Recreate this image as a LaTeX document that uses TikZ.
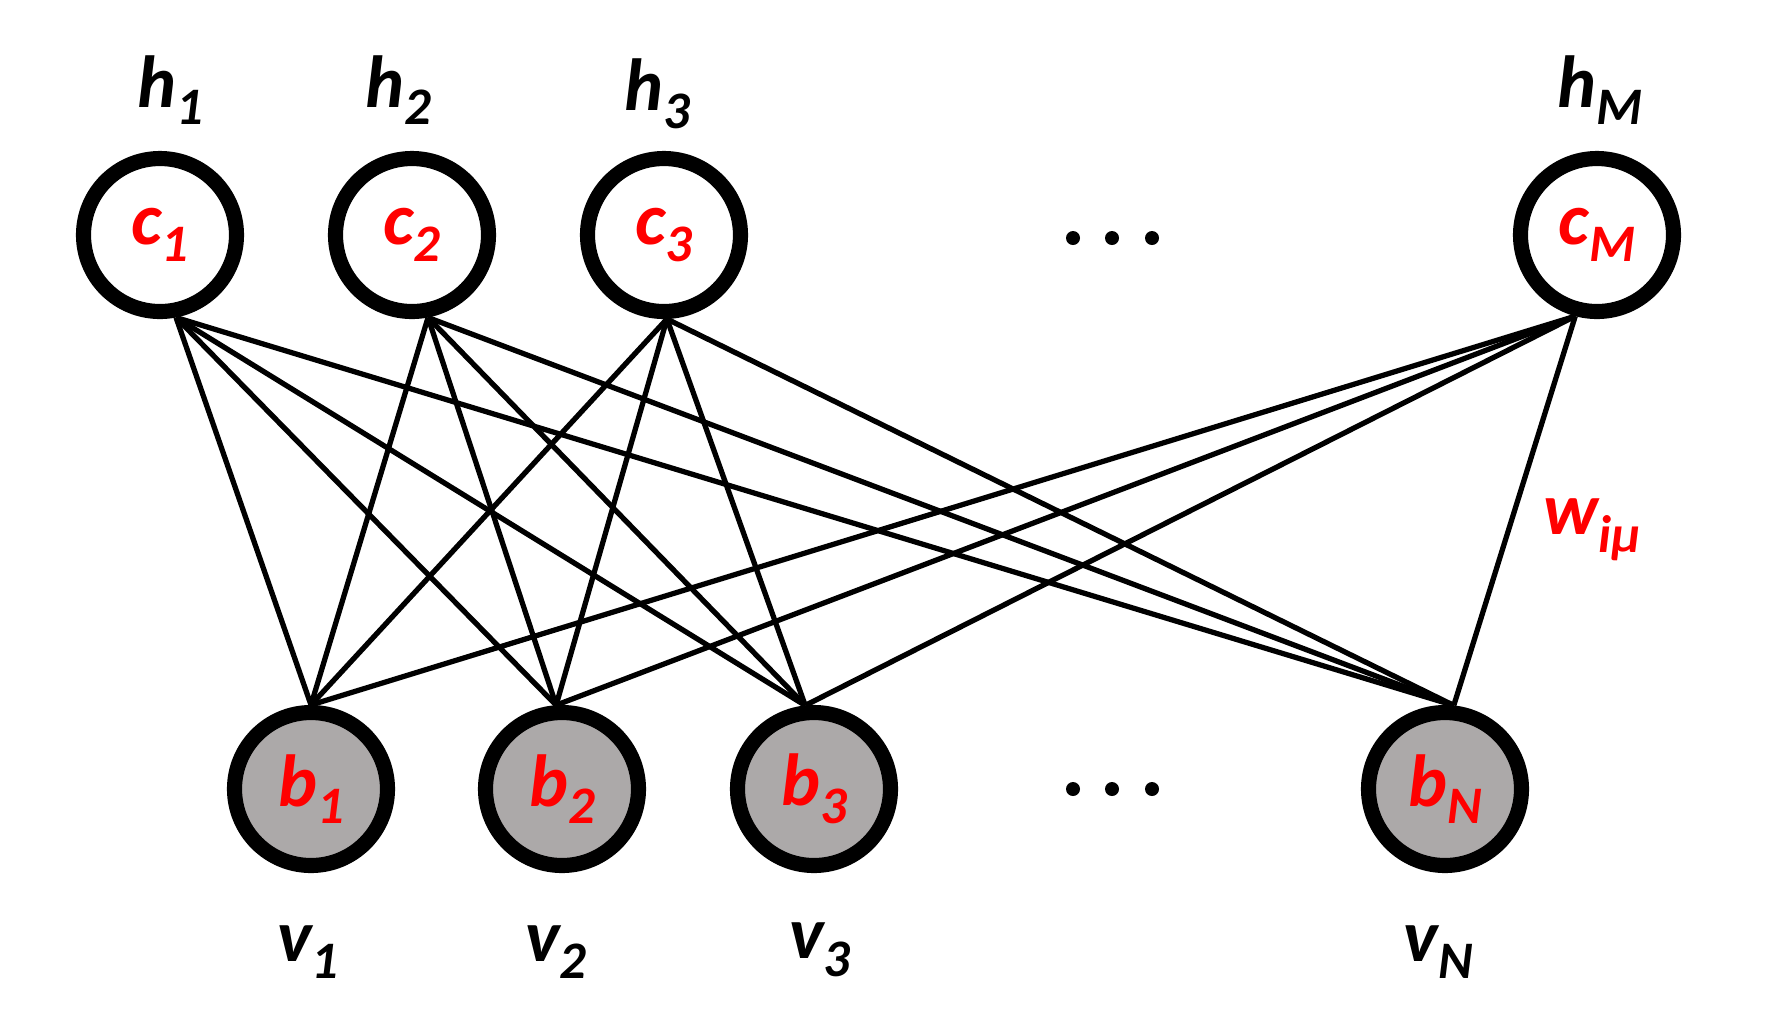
\documentclass[tikz,border=0pt]{standalone}
\usepackage{fontspec}
\setmainfont{Carlito}
\definecolor{unitgray}{RGB}{172,169,169}
\newcommand{\unitlab}[2]{{\fontsize{21}{21}\selectfont\bfseries\itshape #1\raisebox{-5pt}{\fontsize{15}{15}\selectfont #2}}}

\begin{document}
\begin{tikzpicture}[
    hidden/.style={circle,draw,line width=4.3pt,minimum size=1.53cm,inner sep=0pt,fill=white,text=red},
    visible/.style={hidden,fill=unitgray},
    weight/.style={line width=1.5pt}
  ]
    \useasboundingbox (0,0) rectangle (17.8,-10.18);

    % hidden layer
    \node[hidden] (c1) at (1.60,-2.35) {\unitlab{c}{1}};
    \node[hidden] (c2) at (4.12,-2.35) {\unitlab{c}{2}};
    \node[hidden] (c3) at (6.64,-2.35) {\unitlab{c}{3}};
    \node[hidden] (cM) at (15.97,-2.35) {\unitlab{c}{M}};

    % visible layer
    \node[visible] (b1) at (3.11,-7.89) {\unitlab{b}{1}};
    \node[visible] (b2) at (5.62,-7.89) {\unitlab{b}{2}};
    \node[visible] (b3) at (8.14,-7.89) {\unitlab{b}{3}};
    \node[visible] (bN) at (14.45,-7.89) {\unitlab{b}{N}};

    \draw[weight] (c1.-79) -- (b1.90);
    \draw[weight] (c1.-79) -- (b2.94);
    \draw[weight] (c1.-79) -- (b3.96);
    \draw[weight] (c1.-79) -- (bN.84);
    \draw[weight] (c2.-79) -- (b1.90);
    \draw[weight] (c2.-79) -- (b2.94);
    \draw[weight] (c2.-79) -- (b3.96);
    \draw[weight] (c2.-79) -- (bN.84);
    \draw[weight] (c3.-88) -- (b1.90);
    \draw[weight] (c3.-88) -- (b2.94);
    \draw[weight] (c3.-88) -- (b3.96);
    \draw[weight] (c3.-88) -- (bN.84);
    \draw[weight] (cM.-105) -- (b1.90);
    \draw[weight] (cM.-105) -- (b2.94);
    \draw[weight] (cM.-105) -- (b3.96);
    \draw[weight] (cM.-105) -- (bN.84);

    % dots
    \fill (10.73,-2.38) circle (0.07);
    \fill (11.12,-2.38) circle (0.07);
    \fill (11.52,-2.38) circle (0.07);
    \fill (10.73,-7.89) circle (0.07);
    \fill (11.12,-7.89) circle (0.07);
    \fill (11.52,-7.89) circle (0.07);

    % labels
    \node (h1) at (1.70,-0.90) {\unitlab{h}{1}};
    \node (h2) at (3.98,-0.90) {\unitlab{h}{2}};
    \node (h3) at (6.57,-0.94) {\unitlab{h}{3}};
    \node (hM) at (16.00,-0.90) {\unitlab{h}{M}};
    \node (v1) at (3.08,-9.52) {\unitlab{v}{1}};
    \node (v2) at (5.56,-9.52) {\unitlab{v}{2}};
    \node (v3) at (8.20,-9.50) {\unitlab{v}{3}};
    \node (vN) at (14.38,-9.52) {\unitlab{v}{N}};
    \node[text=red] (w) at (15.92,-5.30) {\unitlab{w}{iμ}};
  \end{tikzpicture}
\end{document}
